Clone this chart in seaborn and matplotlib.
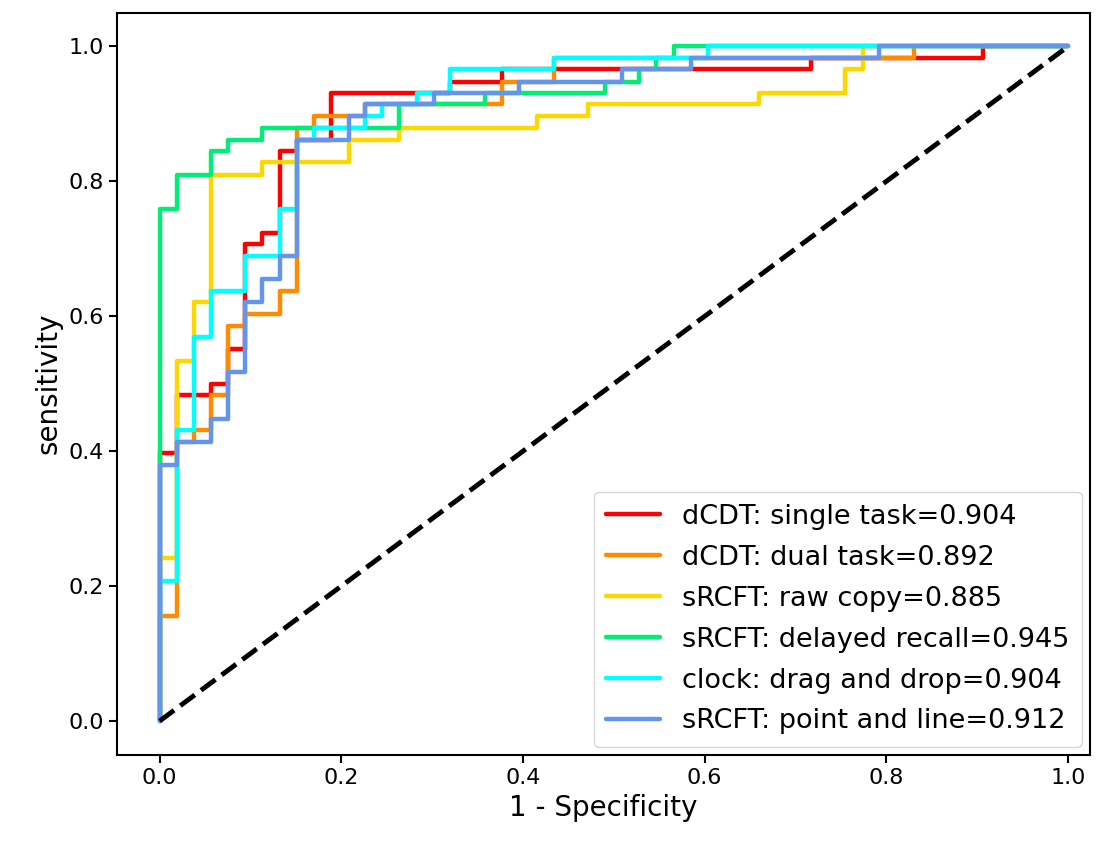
import numpy as np
import pandas as pd
import matplotlib
matplotlib.use("Agg")
import matplotlib.pyplot as plt
import seaborn as sns

# ROC corner points (fpr, tpr)
single_fpr = [0, 0, 0.019, 0.019, 0.057, 0.057, 0.075, 0.075, 0.094, 0.094, 0.113, 0.113,
              0.132, 0.132, 0.151, 0.151, 0.189, 0.189, 0.32, 0.32, 0.377, 0.377, 0.717,
              0.717, 0.906, 0.906, 1]
single_tpr = [0, 0.397, 0.397, 0.483, 0.483, 0.5, 0.5, 0.552, 0.552, 0.707, 0.707, 0.724,
              0.724, 0.845, 0.845, 0.862, 0.862, 0.931, 0.931, 0.948, 0.948, 0.966, 0.966,
              0.983, 0.983, 1, 1]

dual_fpr = [0, 0, 0.019, 0.019, 0.038, 0.038, 0.057, 0.057, 0.075, 0.075, 0.094, 0.094,
            0.132, 0.132, 0.151, 0.151, 0.17, 0.17, 0.226, 0.226, 0.377, 0.377, 0.434,
            0.434, 0.83, 0.83, 1]
dual_tpr = [0, 0.155, 0.155, 0.414, 0.414, 0.431, 0.431, 0.483, 0.483, 0.586, 0.586, 0.603,
            0.603, 0.638, 0.638, 0.879, 0.879, 0.897, 0.897, 0.914, 0.914, 0.948, 0.948,
            0.983, 0.983, 1, 1]

raw_fpr = [0, 0, 0.019, 0.019, 0.038, 0.038, 0.057, 0.057, 0.113, 0.113, 0.208, 0.208,
           0.264, 0.264, 0.415, 0.415, 0.472, 0.472, 0.66, 0.66, 0.755, 0.755, 0.774,
           0.774, 1]
raw_tpr = [0, 0.241, 0.241, 0.534, 0.534, 0.621, 0.621, 0.81, 0.81, 0.828, 0.828, 0.862,
           0.862, 0.879, 0.879, 0.897, 0.897, 0.914, 0.914, 0.931, 0.931, 0.966, 0.966,
           1, 1]

delayed_fpr = [0, 0, 0.019, 0.019, 0.057, 0.057, 0.075, 0.075, 0.113, 0.113, 0.264, 0.264,
               0.358, 0.358, 0.49, 0.49, 0.528, 0.528, 0.547, 0.547, 0.566, 0.566, 1]
delayed_tpr = [0, 0.759, 0.759, 0.81, 0.81, 0.845, 0.845, 0.862, 0.862, 0.879, 0.879, 0.914,
               0.914, 0.931, 0.931, 0.948, 0.948, 0.966, 0.966, 0.983, 0.983, 1, 1]

drag_fpr = [0, 0, 0.019, 0.019, 0.038, 0.038, 0.057, 0.057, 0.094, 0.094, 0.132, 0.132,
            0.151, 0.151, 0.17, 0.17, 0.226, 0.226, 0.245, 0.245, 0.283, 0.283, 0.32,
            0.32, 0.434, 0.434, 0.604, 0.604, 1]
drag_tpr = [0, 0.207, 0.207, 0.431, 0.431, 0.569, 0.569, 0.638, 0.638, 0.69, 0.69, 0.759,
            0.759, 0.862, 0.862, 0.879, 0.879, 0.897, 0.897, 0.914, 0.914, 0.931, 0.931,
            0.966, 0.966, 0.983, 0.983, 1, 1]

point_fpr = [0, 0, 0.019, 0.019, 0.057, 0.057, 0.075, 0.075, 0.094, 0.094, 0.113, 0.113,
             0.132, 0.132, 0.151, 0.151, 0.208, 0.208, 0.226, 0.226, 0.302, 0.302, 0.396,
             0.396, 0.509, 0.509, 0.585, 0.585, 0.792, 0.792, 1]
point_tpr = [0, 0.379, 0.379, 0.414, 0.414, 0.448, 0.448, 0.517, 0.517, 0.621, 0.621, 0.655,
             0.655, 0.69, 0.69, 0.862, 0.862, 0.897, 0.897, 0.914, 0.914, 0.931, 0.931,
             0.948, 0.948, 0.966, 0.966, 0.983, 0.983, 1, 1]

labels = ["dCDT: single task=0.904", "dCDT: dual task=0.892", "sRCFT: raw copy=0.885",
          "sRCFT: delayed recall=0.945", "clock: drag and drop=0.904",
          "sRCFT: point and line=0.912"]
colors = ["#ff0000", "#ff8c00", "#ffd700", "#00ee76", "#00ffff", "#6495ed"]
curves = [(single_fpr, single_tpr), (dual_fpr, dual_tpr), (raw_fpr, raw_tpr),
          (delayed_fpr, delayed_tpr), (drag_fpr, drag_tpr), (point_fpr, point_tpr)]

frames = []
for lab, (f, t) in zip(labels, curves):
    frames.append(pd.DataFrame({"fpr": f, "tpr": t, "model": lab}))
df = pd.concat(frames, ignore_index=True)

sns.set_style("ticks")
plt.rcParams["font.family"] = ["DejaVu Sans"]
plt.rcParams["text.color"] = "black"
plt.rcParams["axes.labelcolor"] = "black"
plt.rcParams["xtick.color"] = "black"
plt.rcParams["ytick.color"] = "black"
plt.rcParams["axes.edgecolor"] = "black"

fig = plt.figure(figsize=(11.03, 8.49), dpi=100)
ax = fig.add_axes([0.106, 0.111, 0.882, 0.874])

sns.lineplot(data=df, x="fpr", y="tpr", hue="model", hue_order=labels,
             palette=dict(zip(labels, colors)), sort=False, estimator=None,
             linewidth=3.2, ax=ax)
ax.plot([0, 1], [0, 1], color="black", linestyle="--", linewidth=3.5)

ax.set_xlim(-0.047, 1.024)
ax.set_ylim(-0.05, 1.05)
ax.set_xticks(np.arange(0, 1.01, 0.2))
ax.set_yticks(np.arange(0, 1.01, 0.2))
ax.tick_params(labelsize=16, width=1.5, length=6)
for s in ax.spines.values():
    s.set_linewidth(1.5)
    s.set_visible(True)
ax.set_xlabel("1 - Specificity", fontsize=20)
ax.set_ylabel("sensitivity", fontsize=20)

leg = ax.legend(loc="lower right", fontsize=19.5, handlelength=2.0, borderpad=0.45,
                labelspacing=0.55, borderaxespad=0.3)
for h in leg.get_lines():
    h.set_linewidth(3.2)

fig.savefig("out.png", dpi=100)
